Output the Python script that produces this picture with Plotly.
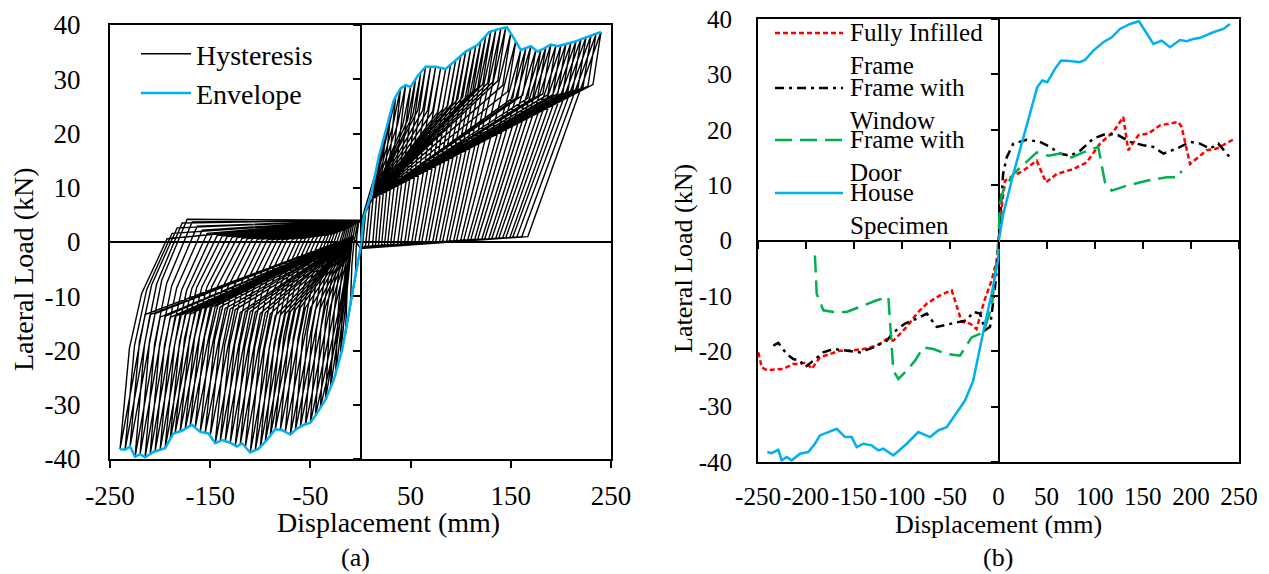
import plotly.graph_objects as go

W, H = 1269, 574
FONT = "Liberation Serif"

# ---------------- Panel (a): envelope (House specimen) ----------------
env_x = [-240, -235, -230, -225, -220, -215, -206.7, -200, -195, -186.7, -178.3, -168.3,
         -160, -151.7, -145, -138.3, -130, -123.3, -118.3, -110, -101.7, -93.3, -85,
         -78.3, -70, -63.3, -56.7, -50, -45, -35, -26.7, -18.3, -10, -5, 0,
         3.3, 10, 18.3, 26.7, 33.3, 40, 45, 50, 56.7, 65, 75, 85, 93.3, 105, 116.7,
         128.3, 136.7, 146, 153.3, 160, 170, 176.7, 183.3, 190, 196.7, 203.3, 213.3,
         221.7, 230, 240]
env_y = [-38.2, -38.3, -37.7, -39.6, -39.1, -39.7, -38.7, -38.3, -38.0, -35.3, -34.8, -33.7,
         -35.0, -35.3, -37.1, -36.5, -37.0, -37.7, -37.1, -38.8, -38.1, -36.5, -34.5,
         -34.7, -35.5, -34.4, -33.7, -33.3, -32.0, -29.1, -25.4, -19.9, -11.3, -5.8, -1.0,
         4.7, 8.3, 15.7, 21.3, 26.2, 28.3, 28.9, 28.6, 30.5, 32.3, 32.3, 31.9, 33.2, 35.1, 36.3,
         38.7, 39.2, 39.6, 37.5, 35.4, 36.1, 35.1, 35.7, 36.4, 36.1, 36.4, 36.9,
         37.5, 38.0, 38.7]

# ---------------- Panel (a): hysteresis cycles (one value per cycle) ----------------
cyc_pos_disp = [5, 10, 15, 20, 25, 30, 35, 40, 45, 50, 55, 60, 65, 70, 75, 80, 85, 90, 95, 100,
                105, 110, 115, 120, 125, 130, 135, 140, 145, 150, 155, 160, 165, 170, 175, 180,
                185, 190, 195, 200, 205, 210, 215, 220, 225, 230, 235, 240]
cyc_pos_load = [5.3, 8.3, 12.7, 16.8, 20.2, 23.7, 26.7, 28.3, 28.9, 28.6, 30.0, 31.0, 32.3, 32.3,
                32.3, 32.1, 31.9, 32.7, 33.5, 34.2, 35.1, 35.6, 36.1, 37.0, 37.9, 38.8, 39.1, 39.3,
                39.6, 38.5, 37.0, 35.4, 35.7, 36.1, 35.4, 35.4, 35.9, 36.4, 36.2, 36.2, 36.5, 36.7,
                37.0, 37.4, 37.7, 38.0, 38.3, 38.7]
cyc_pos_slip_disp = [2, 5, 8, 12, 15, 18, 21, 24, 27, 30, 33, 37, 40, 44, 47, 51, 54, 58, 61, 65,
                     68, 72, 75, 79, 82, 86, 89, 93, 96, 100, 103, 107, 110, 114, 117, 121, 124,
                     128, 131, 135, 138, 142, 145, 149, 152, 156, 161, 167]
cyc_pos_slip_load = [-0.8, -0.7, -0.7, -0.7, -0.6, -0.6, -0.6, -0.5, -0.5, -0.5, -0.4, -0.4, -0.4,
                     -0.3, -0.3, -0.2, -0.2, -0.2, -0.1, -0.1, -0.1, 0.0, 0.0, 0.1, 0.1, 0.1, 0.2,
                     0.2, 0.3, 0.3, 0.3, 0.4, 0.4, 0.5, 0.5, 0.5, 0.6, 0.6, 0.6, 0.7, 0.7, 0.8,
                     0.8, 0.8, 0.9, 0.9, 1.0, 1.0]
cyc_neg_disp = [-5, -10, -15, -20, -25, -30, -35, -40, -45, -50, -55, -60, -65, -70, -75, -80, -85,
                -90, -95, -100, -105, -110, -115, -120, -125, -130, -135, -140, -145, -150, -155,
                -160, -165, -170, -175, -180, -185, -190, -195, -200, -205, -210, -215, -220, -225,
                -230, -235, -240]
cyc_neg_load = [-5.8, -11.3, -17.0, -21.0, -24.6, -27.0, -29.1, -30.5, -32.0, -33.3, -33.8, -34.0,
                -34.7, -35.5, -34.9, -34.6, -34.5, -35.7, -36.8, -37.9, -38.4, -38.8, -37.8, -37.3,
                -37.6, -37.0, -36.7, -36.7, -37.1, -35.7, -35.2, -35.0, -34.2, -33.9, -34.6, -34.9,
                -35.2, -36.5, -38.0, -38.3, -38.6, -39.2, -39.7, -39.1, -39.6, -37.7, -38.3, -38.2]
cyc_neg_slip_disp = [-2, -3, -5, -7, -9, -11, -13, -15, -17, -20, -23, -26, -29, -32, -35, -39,
                     -43, -47, -51, -55, -59, -63, -68, -73, -78, -83, -88, -93, -98, -103, -108,
                     -113, -118, -123, -128, -133, -138, -143, -148, -153, -158, -163, -168, -173,
                     -178, -183, -188, -193]
cyc_neg_slip_load = [3.5, 3.4, 3.3, 3.2, 3.0, 2.8, 2.6, 2.4, 2.2, 2.0, 1.8, 1.6, 1.4, 1.3, 1.2, 1.1,
                     1.0, 0.9, 0.8, 0.7, 0.6, 0.6, 0.5, 0.5, 0.4, 0.4, 0.4, 0.4, 0.5, 0.5, 0.6, 0.6,
                     0.7, 0.8, 0.9, 1.0, 1.1, 1.2, 1.4, 1.6, 2.2, 2.9, 3.7, 4.2, 3.5, 2.6, 1.6, 0.6]
# shape of the negative reloading curve, read from the largest loop:
# fraction of the slip-to-peak displacement span (1 = slip end, 0 = peak) and of the load drop
neg_reload_span_frac = [0.46, 0.20]
neg_reload_load_frac = [0.26, 0.52]
# unloading knees: displacement recovered from the peak (mm) and fraction of peak load kept
pos_unload_knee = [8.0, 0.75]
neg_unload_knee = [25.0, 0.35]
# common pinching points of every cycle (displacement, load)
pinch_pos_start = [0.0, -1.2]
pinch_pos_unload = [12.0, 8.0]
pinch_neg_start = [1.0, 4.0]
pinch_neg_unload = [-8.0, 1.0]

# ---------------- Panel (b): envelopes of four specimens ----------------
fif_x = [-249.6, -246.1, -240.9, -223.7, -213.3, -206.3, -199.5, -194.2, -185.6, -175.2, -164.8,
         -154.4, -140.5, -126.6, -116.2, -109.3, -95.4, -85, -74.6, -60.8, -48.6, -38.3, -29.6,
         -22.8, -18.5, -15.0, -7.1, -1.9, 0,
         3.3, 6.8, 15.4, 25.8, 39.7, 49.4, 60.5, 77.8, 91.7, 105.5, 119.3, 129.7, 134.9, 145.3,
         155.7, 167.9, 176.5, 186.9, 190.4, 199.1, 216.4, 226.8, 245.8]
fif_y = [-20.2, -22.9, -23.4, -23.2, -22.3, -22.3, -22.0, -23.2, -21.1, -20.5, -19.9,
         -19.9, -19.6, -19.0, -17.8, -18.1, -15.6, -13.2, -11.4, -9.9, -9.0, -14.7, -15.0,
         -16.0, -13.0, -11.0, -7.2, -3.6, 0,
         6.0, 10.8, 11.7, 12.6, 14.4, 10.5, 12.0, 12.9, 14.1, 17.5, 19.6, 22.3, 16.3, 19.0,
         19.3, 20.8, 21.1, 21.4, 20.5, 13.8, 16.3, 16.6, 18.4]

win_x = [-234.1, -228.9, -220.2, -213.3, -206.3, -201.1, -192.5, -182.1, -171.6, -157.8, -143.9,
         -130.1, -116.2, -109.3, -97.2, -85, -74.6, -64.2, -47, -33.1, -26.2, -19.2, -14, -8.8,
         -3.6, -1.9, 0,
         3.3, 4.8, 8.5, 15.4, 29.3, 43.1, 53.5, 63.9, 74.3, 84.7, 98.5, 112.4, 124.5, 136.7,
         150.5, 160.9, 171.3, 185.2, 199, 209.5, 219.9, 228.5, 240.6]
win_y = [-19.0, -18.5, -20.5, -21.4, -21.7, -22.9, -21.7, -20.2, -19.6, -19.9, -20.2,
         -19.3, -18.1, -16.6, -15.0, -14.1, -13.2, -15.6, -15.0, -14.4, -12.9, -13.2, -16.2, -15.6,
         -8.4, -5.4, 0,
         7.2, 12.0, 15.0, 17.5, 18.2, 17.8, 16.9, 15.7, 15.3, 16.2, 18.4, 19.3, 19.0, 17.8,
         17.2, 16.9, 15.7, 16.6, 17.8, 17.5, 16.6, 17.5, 15.0]

door_x = [-190.8, -189, -182.1, -171.6, -157.8, -143.9, -126.6, -114.5, -109.3, -104.1, -95.4,
          -86.8, -78.2, -67.8, -53.9, -40, -28, -15.8, -7.1, -2.6, 0,
          1.4, 4.8, 15.4, 31, 39.7, 51.8, 63.9, 76, 88.1, 103.7, 110.7, 117.7, 133.3, 154,
          174.9, 186.9, 190.4]
door_y = [-2.7, -9.6, -12.6, -12.9, -12.9, -12.0, -10.8, -10.2, -23.5, -25.0, -23.5,
          -21.7, -19.3, -19.6, -20.5, -20.8, -17.5, -16.6, -12.0, -4.8, 0,
          6.6, 9.0, 12.0, 14.4, 15.9, 15.3, 15.7, 15.0, 15.9, 16.9, 10.5, 9.0, 9.9, 10.8,
          11.4, 11.4, 12.6]

house_x = [-240.3, -235.8, -228.9, -225.4, -220.2, -215, -206.3, -197.7, -190.8, -185.6, -176.9,
           -168.2, -159.5, -152.6, -147.4, -140.5, -131.8, -124.9, -119.7, -109.3, -95.4, -83.4,
           -71.2, -62.6, -53.9, -40, -34.8, -26.3, -22.8, -14, -7.1, -0.5,
           0.3, 5, 15.4, 24, 32.7, 40.3, 45.5, 50.7, 58.7, 65, 74.3, 84.7, 89.9, 98.6, 108.9,
           117.7, 126.3, 136.7, 146, 154, 161, 169.6, 178.3, 188.7, 195.6, 202.5, 209.5, 223.3,
           233.7, 240.6]
house_y = [-38.2, -38.4, -37.8, -39.7, -39.1, -39.7, -38.5, -38.2, -36.7, -35.2, -34.6,
           -34.0, -35.5, -35.5, -37.3, -36.7, -37.0, -37.9, -37.6, -38.8, -36.7, -34.6,
           -35.5, -34.3, -33.7, -30.3, -28.9, -25.3, -22.3, -15.0, -9.6, -3.6,
           0.0, 4.8, 12.0, 17.5, 22.9, 27.7, 28.9, 28.6, 31.0, 32.5, 32.4, 32.2, 32.6, 34.3, 35.8,
           36.7, 38.2, 39.1, 39.6, 37.3, 35.5, 36.1, 34.9, 36.2, 36.0, 36.4, 36.6, 37.6,
           38.2, 39.1]

x_ticks_a = [-250, -150, -50, 50, 150, 250]
x_ticks_b = [-250, -200, -150, -100, -50, 0, 50, 100, 150, 200, 250]
y_ticks = [-40, -30, -20, -10, 0, 10, 20, 30, 40]
legend_b_names = ["Fully Infilled<br>Frame", "Frame with<br>Window", "Frame with<br>Door",
                  "House<br>Specimen"]

# ---------------- build hysteresis path from the cycle table ----------------
hx, hy = [], []
for i in range(len(cyc_pos_disp)):
    dp, fp = cyc_pos_disp[i], cyc_pos_load[i]
    dn, fn = cyc_neg_disp[i], cyc_neg_load[i]
    sn, ysn = cyc_neg_slip_disp[i], cyc_neg_slip_load[i]
    # positive half: slip, reload to peak, unload towards the pinching point
    hx += [pinch_pos_start[0], cyc_pos_slip_disp[i], dp]
    hy += [pinch_pos_start[1], cyc_pos_slip_load[i], fp]
    if dp >= 35:
        hx.append(dp - pos_unload_knee[0])
        hy.append(fp * pos_unload_knee[1])
    if dp > 15:
        hx.append(pinch_pos_unload[0])
        hy.append(pinch_pos_unload[1])
    # negative half: slip plateau, curved reload to peak, unload
    hx += [pinch_neg_start[0], sn]
    hy += [pinch_neg_start[1], ysn]
    for fd, fl in zip(neg_reload_span_frac, neg_reload_load_frac):
        hx.append(dn + fd * (sn - dn))
        hy.append(ysn + fl * (fn - ysn))
    hx.append(dn)
    hy.append(fn)
    if dn <= -40:
        hx.append(dn + neg_unload_knee[0])
        hy.append(fn * neg_unload_knee[1])
    if dn < -15:
        hx.append(pinch_neg_unload[0])
        hy.append(pinch_neg_unload[1])

# ---------------- layout geometry ----------------
dom_ax = [110 / W, 611 / W]
dom_ay = [(H - 459) / H, (H - 25) / H]
dom_bx = [758 / W, 1239 / W]
dom_by = [(H - 462) / H, (H - 19) / H]
XR = [-250, 250]
YR = [-40, 40]


def frac(v, r, d):
    return d[0] + (v - r[0]) / (r[1] - r[0]) * (d[1] - d[0])


a_zero_x = frac(0, XR, dom_ax)
b_zero_x = frac(0, XR, dom_bx)
b_zero_y = frac(0, YR, dom_by)

BLUE = "#00B0F0"
RED = "#FF0000"
GREEN = "#00B050"
BLACK = "#000000"

fig = go.Figure()
fig.add_trace(go.Scatter(x=hx, y=hy, mode="lines", name="Hysteresis",
                         line=dict(color=BLACK, width=1.4), xaxis="x", yaxis="y",
                         legend="legend"))
fig.add_trace(go.Scatter(x=env_x, y=env_y, mode="lines", name="Envelope",
                         line=dict(color=BLUE, width=2.5), xaxis="x", yaxis="y",
                         legend="legend"))

styles_b = [
    (fif_x, fif_y, RED, "5px,3px"),
    (win_x, win_y, BLACK, "9px,5px,3px,5px"),
    (door_x, door_y, GREEN, "17px,8px"),
    (house_x, house_y, BLUE, "solid"),
]
for (xs, ys, col, dash), nm in zip(styles_b, legend_b_names):
    fig.add_trace(go.Scatter(x=xs, y=ys, mode="lines", name=nm.replace("<br>", " "),
                             line=dict(color=col, width=2.5, dash=dash),
                             xaxis="x2", yaxis="y2", showlegend=False))

# helper (empty) traces so that the tick-only axes on the zero lines are drawn
fig.add_trace(go.Scatter(x=[], y=[], xaxis="x", yaxis="y3", showlegend=False, hoverinfo="skip"))
fig.add_trace(go.Scatter(x=[], y=[], xaxis="x3", yaxis="y2", showlegend=False, hoverinfo="skip"))
fig.add_trace(go.Scatter(x=[], y=[], xaxis="x2", yaxis="y4", showlegend=False, hoverinfo="skip"))

tick_font_a = dict(family=FONT, size=27, color="black")
tick_font_b = dict(family=FONT, size=25, color="black")

common_box = dict(showline=True, linecolor="black", linewidth=2, mirror=True, showgrid=False,
                  zeroline=True, zerolinecolor="black", automargin=False)
tick_only = dict(showticklabels=False, showline=False, showgrid=False, zeroline=False,
                 tickcolor="black", tickwidth=2, ticks="outside", automargin=False)

fig.update_layout(
    template="none",
    width=W, height=H, margin=dict(l=0, r=0, t=0, b=0, autoexpand=False),
    paper_bgcolor="white", plot_bgcolor="white",
    font=dict(family=FONT, color="black"),
    xaxis=dict(domain=dom_ax, range=XR, anchor="y", tickvals=x_ticks_a,
               ticktext=[str(v) for v in x_ticks_a], ticks="outside", ticklen=7, tickwidth=2,
               tickcolor="black", tickfont=tick_font_a, tickangle=0, ticklabelstandoff=5,
               zerolinewidth=1.5, **common_box),
    yaxis=dict(domain=dom_ay, range=YR, anchor="x", tickvals=y_ticks,
               ticktext=[str(v) for v in y_ticks], ticks="", tickfont=tick_font_a,
               ticklabelstandoff=22, zerolinewidth=1.5, **common_box),
    yaxis3=dict(overlaying="y", anchor="free", position=a_zero_x, side="left", range=YR,
                tickvals=y_ticks, ticklen=8, **tick_only),
    xaxis2=dict(domain=dom_bx, range=XR, anchor="y2", tickvals=x_ticks_b,
                ticktext=[str(v) for v in x_ticks_b], ticks="", tickfont=tick_font_b,
                tickangle=0, ticklabelstandoff=11, zerolinewidth=2, **common_box),
    yaxis2=dict(domain=dom_by, range=YR, anchor="x2", tickvals=y_ticks,
                ticktext=[str(v) for v in y_ticks], ticks="", tickfont=tick_font_b,
                ticklabelstandoff=19, zerolinewidth=2, **common_box),
    xaxis3=dict(overlaying="x2", anchor="free", position=b_zero_y, side="bottom", range=XR,
                tickvals=x_ticks_b, ticklen=7, **tick_only),
    yaxis4=dict(overlaying="y2", anchor="free", position=b_zero_x, side="left", range=YR,
                tickvals=y_ticks, ticklen=8, **tick_only),
    legend=dict(x=136 / W, y=(H - 29) / H, xanchor="left", yanchor="top",
                font=dict(family=FONT, size=28, color="black"), bgcolor="rgba(0,0,0,0)",
                itemwidth=50, tracegroupgap=0, borderwidth=0),
    showlegend=True,
)

# ---------- manual legend for panel (b) (two-line entries, as in the reference) ----------
leg_rows = [33, 88, 140, 193]
for (xs, ys, col, dash), nm, yy in zip(styles_b, legend_b_names, leg_rows):
    fig.add_shape(type="line", xref="paper", yref="paper", x0=775 / W, x1=843 / W,
                  y0=(H - yy) / H, y1=(H - yy) / H, line=dict(color=col, width=2.5, dash=dash))
    fig.add_annotation(text=nm, xref="paper", yref="paper", x=848 / W, y=(H - yy - 16) / H,
                       xanchor="left", yanchor="middle", align="left", showarrow=False,
                       font=dict(family=FONT, size=25, color="black"))


# ---------- axis titles and panel labels ----------
def label(text, px, py, size, angle=0):
    fig.add_annotation(text=text, xref="paper", yref="paper", x=px / W, y=(H - py) / H,
                       xanchor="center", yanchor="middle", showarrow=False, textangle=angle,
                       font=dict(family=FONT, size=size, color="black"))


label("Displacement (mm)", 388, 522, 28)
label("Lateral Load (kN)", 23, 269, 28, -90)
label("Displacement (mm)", 998, 524, 26)
label("Lateral Load (kN)", 683, 259, 26, -90)
label("(a)", 355, 557, 26)
label("(b)", 998, 557, 26)

fig.write_html("out.html")
